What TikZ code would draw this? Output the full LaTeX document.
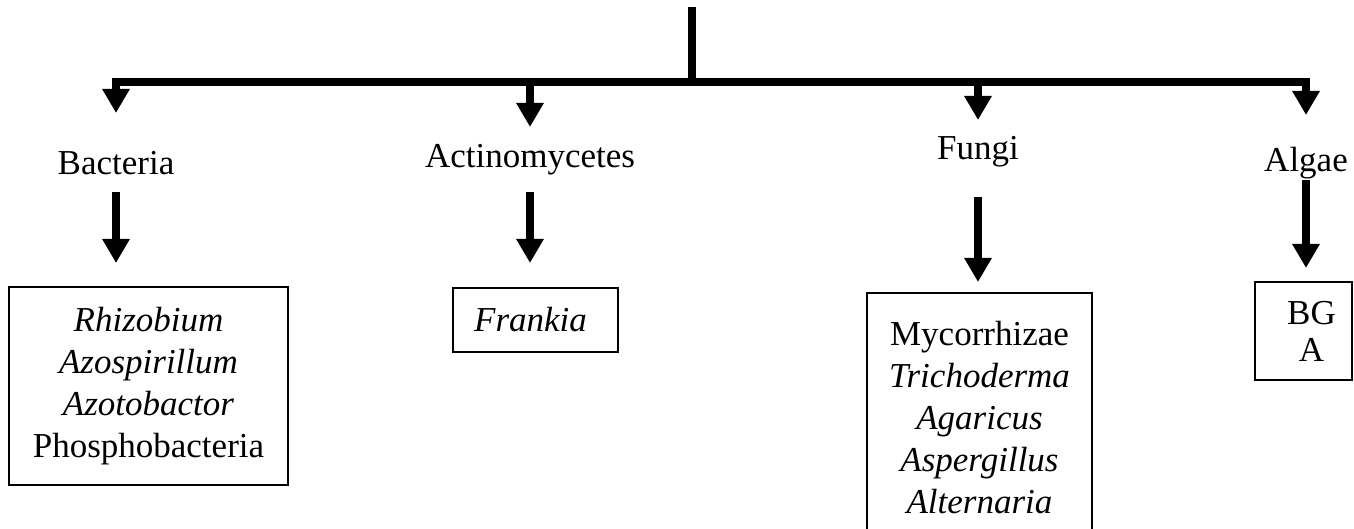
\documentclass[tikz,border=0pt]{standalone}
\usepackage{fontspec}
\setmainfont{Liberation Serif}
\usetikzlibrary{arrows.meta}
\begin{document}
\begin{tikzpicture}[x=1pt,y=-1pt,
  every node/.style={font=\fontsize{35}{42}\selectfont},
  lbl/.style={inner sep=0pt, outer sep=0pt, anchor=base, text height=24pt, text depth=8pt},
  grp/.style={draw=black, line width=1.8pt, inner sep=0pt, outer sep=0pt, anchor=north west, align=center},
  thickline/.style={line width=8pt, line join=miter},
  arr/.style={line width=8pt, line join=miter, -{Triangle[width=26pt,length=24pt]}}]
\useasboundingbox (0,0) rectangle (1354,529);
\clip (0,0) rectangle (1354,529);
% labels
\node[lbl] (bact) at (116,175) {Bacteria};
\node[lbl] (acti) at (530,168) {Actinomycetes};
\node[lbl] (fung) at (978,160) {Fungi};
\node[lbl] (alga) at (1306,172) {Algae};
% boxes
\node[grp, minimum width=279pt, minimum height=198pt] (bbox) at (9,287)
  {\textit{Rhizobium}\\\textit{Azospirillum}\\\textit{Azotobactor}\\Phosphobacteria};
\node[grp, minimum width=165pt, minimum height=64pt] (abox) at (453,288)
  {\textit{Frankia}\hspace*{10pt}};
\node[grp, minimum width=225pt, minimum height=250pt] (fbox) at (867,293)
  {Mycorrhizae\\\textit{Trichoderma}\\\textit{Agaricus}\\\textit{Aspergillus}\\\textit{Alternaria}};
\node[grp, minimum width=97pt, minimum height=98pt] (gbox) at (1255,282)
  {\hspace*{16pt}BG\\[-5pt]\hspace*{16pt}A};
% trunk and bar
\coordinate (top) at (692,7);
\coordinate (hub) at (692,82);
\draw[line width=7.5pt] (top) -- (hub);
\draw[arr, shorten >=38pt] (hub) -| (bact.north);
\draw[arr, shorten >=33pt] (hub) -| (alga.north);
\draw[arr, shorten >=17pt] (acti.north |- hub) -- (acti.north);
\draw[arr, shorten >=16pt] (fung.north |- hub) -- (fung.north);
% second-level arrows
\draw[arr, shorten <=9pt, shorten >=24pt] (bact.south) -- (bact.south |- bbox.north);
\draw[arr, shorten <=16pt, shorten >=25pt] (acti.south) -- (acti.south |- abox.north);
\draw[arr, shorten <=29pt, shorten >=11pt] (fung.south) -- (fung.south |- fbox.north);
\draw[arr, shorten <=0pt, shorten >=14pt] (alga.south) -- (alga.south |- gbox.north);
\end{tikzpicture}
\end{document}
